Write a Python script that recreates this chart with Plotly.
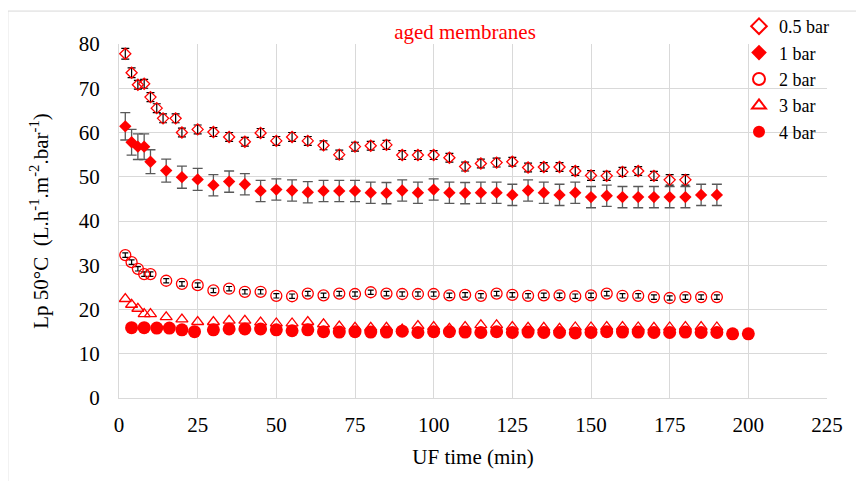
import plotly.graph_objects as go

# ---- data ----
t05 = [2, 4, 6, 8, 10, 12, 14, 18, 20, 25, 30, 35, 40, 45, 50, 55, 60, 65, 70,
       75, 80, 85, 90, 95, 100, 105, 110, 115, 120, 125, 130, 135, 140, 145,
       150, 155, 160, 165, 170, 175, 180]
lp05 = [77.8, 73.5, 70.8, 71.0, 68.0, 65.5, 63.2, 63.2, 60.0, 60.7, 60.1, 59.0,
        57.9, 59.9, 58.1, 59.0, 58.1, 57.1, 55.0, 56.8, 57.0, 57.2, 54.9, 54.9,
        54.9, 54.3, 52.3, 53.0, 53.2, 53.4, 52.1, 52.2, 52.2, 51.3, 50.3, 50.2,
        51.1, 51.3, 50.2, 49.3, 49.3]
err05 = [1.2, 1.1, 1.0, 1.0, 1.0, 1.0, 1.0, 1.0, 1.0, 1.0, 1.0, 1.0, 1.0, 1.0,
         1.0, 1.0, 1.0, 1.0, 1.0, 1.0, 1.0, 1.0, 1.0, 1.0, 1.0, 1.0, 1.0, 1.0,
         1.0, 1.0, 1.0, 1.0, 1.0, 1.0, 1.1, 1.0, 1.0, 1.0, 1.0, 1.2, 1.2]

t1 = [2, 4, 6, 8, 10, 15, 20, 25, 30, 35, 40, 45, 50, 55, 60, 65, 70, 75, 80,
      85, 90, 95, 100, 105, 110, 115, 120, 125, 130, 135, 140, 145, 150, 155,
      160, 165, 170, 175, 180, 185, 190]
lp1 = [61.4, 57.8, 56.8, 56.8, 53.4, 51.4, 49.9, 49.4, 48.1, 48.9, 48.3, 46.8,
       47.1, 46.9, 46.5, 46.8, 46.8, 46.8, 46.4, 46.3, 46.9, 46.4, 47.1, 46.4,
       46.3, 46.4, 46.4, 45.9, 46.9, 46.4, 45.9, 46.4, 45.4, 45.7, 45.4, 45.4,
       45.4, 45.4, 45.4, 45.9, 45.9]
err1 = [3.1, 2.9, 2.9, 2.9, 2.7, 2.6, 2.5, 2.5, 2.4, 2.4, 2.4, 2.4, 2.4, 2.4,
        2.4, 2.4, 2.4, 2.4, 2.4, 2.4, 2.4, 2.4, 2.4, 2.4, 2.4, 2.4, 2.4, 2.4,
        2.4, 2.4, 2.4, 2.4, 2.4, 2.4, 2.4, 2.4, 2.4, 2.4, 2.4, 2.4, 2.4]

t2 = list(t1)
lp2 = [32.3, 30.7, 29.2, 28.0, 28.0, 26.5, 25.8, 25.5, 24.3, 24.7, 24.0, 24.0,
       23.1, 23.0, 23.6, 23.2, 23.6, 23.5, 23.9, 23.6, 23.5, 23.5, 23.5, 23.2,
       23.3, 23.1, 23.6, 23.3, 23.1, 23.2, 23.2, 23.0, 23.2, 23.6, 23.1, 23.1,
       22.8, 22.6, 22.8, 22.8, 22.8]
err2 = [0.5] * len(lp2)

t3 = list(t1)
lp3 = [22.4, 21.1, 20.2, 19.0, 19.0, 18.3, 17.8, 17.2, 17.2, 17.5, 17.5, 17.1,
       16.9, 16.9, 17.2, 16.7, 16.2, 15.9, 15.9, 15.9, 15.5, 16.3, 16.1, 15.7,
       16.1, 16.5, 16.5, 16.1, 15.9, 15.9, 15.7, 16.0, 16.0, 16.1, 16.1, 16.0,
       15.9, 16.0, 16.1, 16.1, 16.0]

t4 = [4, 8, 12, 16, 20, 24, 30, 35, 40, 45, 50, 55, 60, 65, 70, 75, 80, 85, 90,
      95, 100, 105, 110, 115, 120, 125, 130, 135, 140, 145, 150, 155, 160, 165,
      170, 175, 180, 185, 190, 195, 200]
lp4 = [15.9, 15.9, 15.8, 15.8, 15.4, 15.0, 15.4, 15.6, 15.6, 15.6, 15.4, 15.2,
       15.4, 15.0, 14.9, 15.0, 14.9, 14.9, 15.1, 14.8, 15.0, 15.0, 14.9, 14.8,
       15.0, 14.8, 14.9, 14.8, 14.8, 14.7, 14.8, 15.0, 14.9, 14.9, 14.8, 14.8,
       14.9, 14.8, 14.8, 14.5, 14.5]

x_ticks = [0, 25, 50, 75, 100, 125, 150, 175, 200, 225]
y_ticks = [0, 10, 20, 30, 40, 50, 60, 70, 80]

RED = "#ff0000"
FONT = "Liberation Serif, Tinos, Times New Roman, DejaVu Serif, serif"

W, H = 856, 473  # page body has an 8px margin

fig = go.Figure()
fig.add_trace(go.Scatter(
    x=t05, y=lp05, mode="markers", name="0.5 bar",
    marker=dict(symbol="diamond-open", size=8.5, color=RED, line=dict(width=1.3, color=RED)),
    error_y=dict(type="data", array=err05, color="black", thickness=1.2, width=4)))
fig.add_trace(go.Scatter(
    x=t1, y=lp1, mode="markers", name="1 bar",
    marker=dict(symbol="diamond", size=9.5, color=RED),
    error_y=dict(type="data", array=err1, color="#595959", thickness=1.3, width=5)))
fig.add_trace(go.Scatter(
    x=t2, y=lp2, mode="markers", name="2 bar",
    marker=dict(symbol="circle-open", size=11, color=RED, line=dict(width=1.3, color=RED)),
    error_y=dict(type="data", array=err2, color="black", thickness=1.2, width=3)))
fig.add_trace(go.Scatter(
    x=t3, y=lp3, mode="markers", name="3 bar",
    marker=dict(symbol="triangle-up-open", size=10.5, color=RED, line=dict(width=1.3, color=RED))))
fig.add_trace(go.Scatter(
    x=t4, y=lp4, mode="markers", name="4 bar",
    marker=dict(symbol="circle", size=13, color=RED)))

GRID = "#d9d9d9"
fig.update_layout(
    width=W, height=H,
    margin=dict(l=111, r=37, t=36, b=83, autoexpand=False),
    paper_bgcolor="white", plot_bgcolor="white",
    font=dict(family=FONT, size=21, color="black"),
    title=dict(text="aged membranes", font=dict(family=FONT, size=21, color=RED),
               x=457 / W, xref="container", xanchor="center",
               y=1 - 24 / H, yref="container", yanchor="middle"),
    showlegend=True,
    legend=dict(x=731 / W, xref="container", xanchor="left",
                y=1.0, yref="container", yanchor="top",
                bgcolor="rgba(0,0,0,0)", borderwidth=0,
                font=dict(family=FONT, size=18, color="black"),
                itemsizing="constant"),
    shapes=[
        dict(type="rect", xref="paper", yref="paper", x0=0.859, x1=1.2, y0=0.726, y1=1.09,
             fillcolor="white", line=dict(width=0), layer="between"),
        dict(type="rect", xref="paper", yref="paper", x0=-0.157, x1=1.3, y0=-0.4, y1=1.093,
             fillcolor="rgba(0,0,0,0)", line=dict(width=1, color=GRID), layer="above"),
    ],
)
fig.update_xaxes(
    range=[0, 225], tickmode="array", tickvals=x_ticks, ticktext=[str(v) for v in x_ticks],
    showgrid=True, gridcolor=GRID, gridwidth=1, zeroline=False, automargin=False,
    showline=True, linecolor=GRID, linewidth=1, ticks="", ticklabelstandoff=8,
    tickfont=dict(family=FONT, size=21),
    title=dict(text="UF time (min)", font=dict(family=FONT, size=21), standoff=13),
)
fig.update_yaxes(
    range=[0, 80], tickmode="array", tickvals=y_ticks, ticktext=[str(v) for v in y_ticks],
    showgrid=True, gridcolor=GRID, gridwidth=1, zeroline=False, automargin=False,
    showline=True, linecolor=GRID, linewidth=1, ticks="", ticklabelstandoff=14,
    tickfont=dict(family=FONT, size=21),
    title=dict(text="Lp 50°C  (L.h<sup>-1</sup>.m<sup>-2</sup>.bar<sup>-1</sup>)",
               font=dict(family=FONT, size=21), standoff=24),
)

fig.write_html("out.html")
